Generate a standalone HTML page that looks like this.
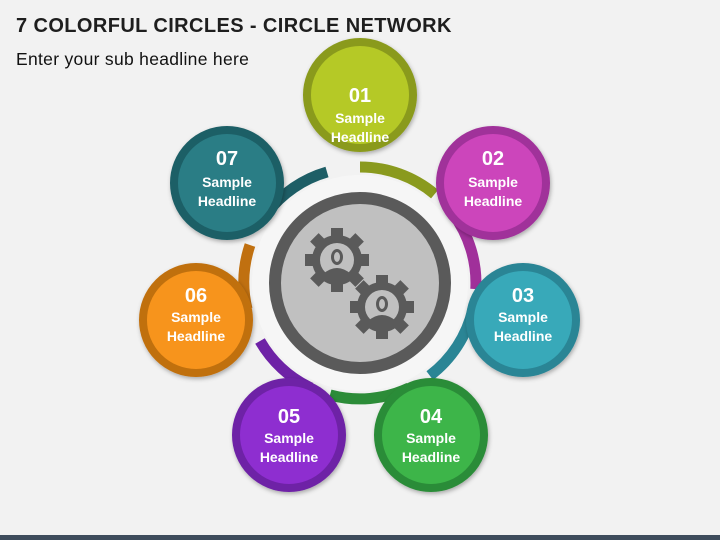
<!DOCTYPE html>
<html><head><meta charset="utf-8"><style>
html,body{margin:0;padding:0}
body{width:720px;height:540px;background:#f2f2f2;position:relative;overflow:hidden;font-family:"Liberation Sans",sans-serif}
.t{position:absolute;left:16px;top:15px;font-size:20px;font-weight:bold;color:#1e1e1e;letter-spacing:0.4px}
.s{position:absolute;left:16px;top:49px;font-size:17.5px;color:#111;letter-spacing:0.3px}
.bar{position:absolute;left:0;bottom:0;width:720px;height:5px;background:#3e4c5c}
</style></head><body>
<div class="t">7 COLORFUL CIRCLES - CIRCLE NETWORK</div>
<div class="s">Enter your sub headline here</div>
<svg width="720" height="540" style="position:absolute;left:0;top:0">
<defs>
<filter id="sh" x="-20%" y="-20%" width="140%" height="140%"><feDropShadow dx="1" dy="2" stdDeviation="2" flood-opacity="0.3"/></filter>
<g id="gear">
<circle r="25" fill="#5a5a5a"/>
<g fill="#5a5a5a">
<rect x="-6" y="-32" width="12" height="64"/>
<rect x="-6" y="-32" width="12" height="64" transform="rotate(45)"/>
<rect x="-6" y="-32" width="12" height="64" transform="rotate(90)"/>
<rect x="-6" y="-32" width="12" height="64" transform="rotate(135)"/>
</g>
<circle r="17" fill="#c0c0c0"/>
<ellipse cx="0" cy="-3" rx="6" ry="8" fill="#5a5a5a"/>
<ellipse cx="0" cy="-3" rx="3" ry="5" fill="#c0c0c0"/>
<path d="M-14 14 Q0 2 14 14 L14 18 L-14 18Z" fill="#5a5a5a"/>
</g>
</defs>
<circle cx="360" cy="283" r="108" fill="#f6f6f6"/>
<g fill="none" stroke-width="11">
<path d="M360 167 A116 116 0 0 1 434.6 194.1" stroke="#8a9a1e"/>
<path d="M452.6 213.2 A116 116 0 0 1 475.8 289.1" stroke="#a0309a"/>
<path d="M473 309 A116 116 0 0 1 429.8 375.6" stroke="#2a8595"/>
<path d="M409 388 A116 116 0 0 1 330 395" stroke="#2c8c38"/>
<path d="M311 388 A116 116 0 0 1 260 341" stroke="#6e22a6"/>
<path d="M247 309 A116 116 0 0 1 250 245" stroke="#c07010"/>
<path d="M267 213 A116 116 0 0 1 327 172" stroke="#1e5e66"/>
</g>
<circle cx="360" cy="283" r="85" fill="#c0c0c0" stroke="#5a5a5a" stroke-width="12"/>
<use href="#gear" x="337" y="260"/>
<use href="#gear" x="382" y="307"/>
<g font-family="Liberation Sans,sans-serif" fill="#fff" text-anchor="middle">
<g filter="url(#sh)">
<circle cx="360" cy="95" r="53" fill="#b5c928" stroke="#8a9a1e" stroke-width="8"/>
<circle cx="493" cy="183" r="53" fill="#cc44bb" stroke="#a0309a" stroke-width="8"/>
<circle cx="523" cy="320" r="53" fill="#38a9b9" stroke="#2a8595" stroke-width="8"/>
<circle cx="431" cy="435" r="53" fill="#3db54a" stroke="#2c8c38" stroke-width="8"/>
<circle cx="289" cy="435" r="53" fill="#8e2ed0" stroke="#6e22a6" stroke-width="8"/>
<circle cx="196" cy="320" r="53" fill="#f7941d" stroke="#c07010" stroke-width="8"/>
<circle cx="227" cy="183" r="53" fill="#2a7d85" stroke="#1e5e66" stroke-width="8"/>
</g>
<g font-size="20" font-weight="bold">
<text x="360" y="102">01</text><text x="493" y="165">02</text><text x="523" y="302">03</text>
<text x="431" y="423">04</text><text x="289" y="423">05</text><text x="196" y="302">06</text><text x="227" y="165">07</text>
</g>
<g font-size="14" font-weight="bold">
<text x="360" y="123">Sample</text><text x="360" y="142">Headline</text>
<text x="493" y="187">Sample</text><text x="493" y="206">Headline</text>
<text x="523" y="322">Sample</text><text x="523" y="341">Headline</text>
<text x="431" y="443">Sample</text><text x="431" y="462">Headline</text>
<text x="289" y="443">Sample</text><text x="289" y="462">Headline</text>
<text x="196" y="322">Sample</text><text x="196" y="341">Headline</text>
<text x="227" y="187">Sample</text><text x="227" y="206">Headline</text>
</g>
</g>
</svg>
<div class="bar"></div>
</body></html>
